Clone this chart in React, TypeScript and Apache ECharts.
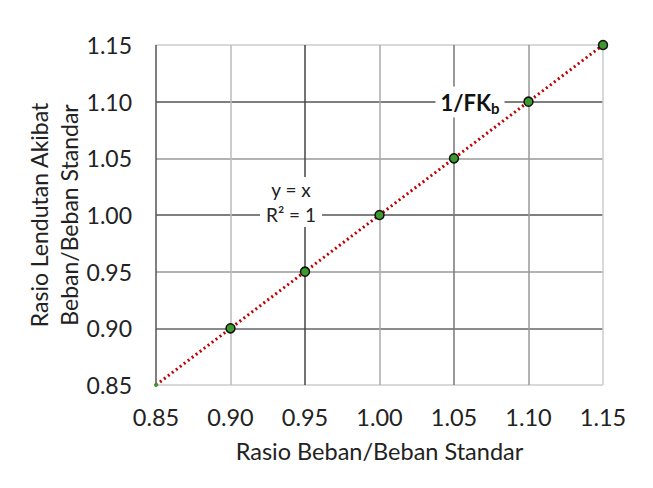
import React, { useEffect, useRef } from "react";
import * as echarts from "echarts";

const xValues = [0.85, 0.9, 0.95, 1.0, 1.05, 1.1, 1.15];
const yValues = [0.85, 0.9, 0.95, 1.0, 1.05, 1.1, 1.15];
const xTitle = "Rasio Beban/Beban Standar";
const yTitle = "Rasio Lendutan Akibat\nBeban/Beban Standar";
const vGridColors = ["#555", "#bbb", "#444", "#aaa", "#777", "#999", "#ccc"];
const hGridColors = ["#ccc", "#666", "#999", "#555", "#999", "#555", "#ccc"];

export default function App() {
  const ref = useRef<HTMLDivElement>(null);
  useEffect(() => {
    if (!ref.current) return;
    const chart = echarts.init(ref.current, undefined, { renderer: "svg" });
    const font = "Lato, 'Open Sans', sans-serif";
    const data = xValues.map((x, i) => {
      const d: any = { value: [x, yValues[i]] };
      if (i === 0) d.symbolSize = 4;
      if (i === 0) d.itemStyle = { borderWidth: 0, color: "#3c9a2e" };
      return d;
    });
    chart.setOption({
      animation: false,
      backgroundColor: "#fff",
      grid: { left: 148, right: 42, top: 37, bottom: 95 },
      xAxis: {
        type: "value",
        min: 0.85,
        max: 1.15,
        interval: 0.05,
        name: xTitle,
        nameLocation: "middle",
        nameGap: 54,
        nameMoveOverlap: false,
        nameTextStyle: { fontFamily: font, fontSize: 23.5, color: "#222" },
        axisLine: { show: false },
        axisTick: { show: false },
        axisLabel: {
          fontFamily: font,
          fontSize: 23.5,
          color: "#222",
          margin: 20,
          formatter: (v: number) => v.toFixed(2),
        },
        splitLine: { show: true, lineStyle: { color: vGridColors, width: 1.5 } },
      },
      yAxis: {
        type: "value",
        min: 0.85,
        max: 1.15,
        interval: 0.05,
        name: yTitle,
        nameLocation: "middle",
        nameGap: 72,
        nameMoveOverlap: false,
        nameTextStyle: { fontFamily: font, fontSize: 23, color: "#222", lineHeight: 30 },
        axisLine: { show: false },
        axisTick: { show: false },
        axisLabel: {
          fontFamily: font,
          fontSize: 23,
          color: "#222",
          margin: 24,
          formatter: (v: number) => v.toFixed(2),
        },
        splitLine: { show: true, lineStyle: { color: hGridColors, width: 1.5 } },
      },
      series: [
        {
          type: "line",
          data,
          symbol: "circle",
          symbolSize: 9,
          lineStyle: { color: "#c00000", width: 3, type: [2, 3] },
          itemStyle: { color: "#3c9a2e", borderColor: "#111", borderWidth: 1.5 },
          z: 3,
        },
      ],
      graphic: [
        {
          type: "text",
          x: 462,
          y: 94,
          style: {
            text: "{a|1/FK}{b|b}",
            rich: {
              a: { fontFamily: font, fontSize: 22, fontWeight: "bold", fill: "#111" },
              b: { fontFamily: font, fontSize: 15, fontWeight: "bold", fill: "#111", padding: [12, 0, 0, 0] },
            },
            backgroundColor: "#fff",
            padding: [2, 5],
            align: "center",
            verticalAlign: "middle",
          },
          z: 10,
        },
        {
          type: "text",
          x: 283,
          y: 194,
          style: {
            text: "y = x\nR\u00b2 = 1",
            fontFamily: font,
            fontSize: 19,
            lineHeight: 25,
            fill: "#222",
            backgroundColor: "#fff",
            padding: [0, 6],
            align: "center",
            verticalAlign: "middle",
          },
          z: 10,
        },
      ],
    });
    return () => chart.dispose();
  }, []);
  return <div ref={ref} style={{ width: 637, height: 472 }} />;
}
